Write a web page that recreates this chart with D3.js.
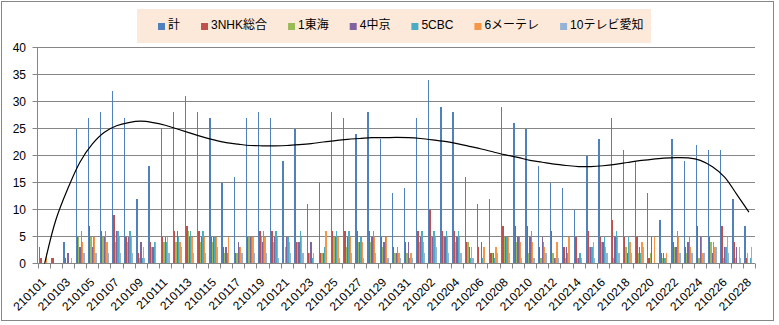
<!DOCTYPE html>
<html><head><meta charset="utf-8">
<script src="https://cdn.jsdelivr.net/npm/d3@7"></script>
<style>
html,body{margin:0;padding:0;background:#fff;}
svg{display:block;}
text{font-family:"Liberation Sans","Noto Sans CJK JP",sans-serif;}
</style></head>
<body>
<svg id="chart" width="779" height="325"></svg>
<script>
const dates = ["210101","210102","210103","210104","210105","210106","210107","210108","210109","210110",
"210111","210112","210113","210114","210115","210116","210117","210118","210119","210120",
"210121","210122","210123","210124","210125","210126","210127","210128","210129","210130","210131",
"210201","210202","210203","210204","210205","210206","210207","210208","210209","210210",
"210211","210212","210213","210214","210215","210216","210217","210218","210219","210220",
"210221","210222","210223","210224","210225","210226","210227","210228"];

const seriesNames = ["計","3NHK総合","1東海","4中京","5CBC","6メーテレ","10テレビ愛知"];
const seriesColors = ["#4F81BD","#C0504D","#9BBB59","#8064A2","#4BACC6","#F79646","#95B3D7"];

const total   = [3,1,4,25,27,28,32,27,12,18,25,28,31,28,27,15,16,27,28,27,19,25,11,15,28,27,24,28,23,13,14,27,34,29,28,16,11,12,29,26,25,18,15,14,10,20,23,27,21,19,13,8,23,19,22,21,21,12,7];
const nhk     = [1,1,1,5,7,6,9,5,2,4,5,6,7,6,5,3,2,5,6,6,0,4,2,2,6,6,6,6,5,3,4,6,10,6,6,4,3,2,7,7,7,3,6,3,5,6,5,8,5,5,1,2,4,3,7,5,7,4,1];
const tokai   = [0,0,0,5,5,5,4,4,1,3,4,4,6,4,4,2,2,5,5,4,3,4,2,2,5,3,4,4,3,2,2,4,5,5,4,4,0,2,5,4,2,1,2,1,1,3,4,1,3,2,2,1,3,2,1,4,1,1,2];
const chukyo  = [0,0,2,3,3,5,6,5,4,3,5,6,5,5,5,3,4,5,4,5,5,4,4,2,5,5,4,5,4,2,4,5,5,5,5,3,4,2,5,5,5,5,1,3,1,3,4,5,2,3,5,2,3,4,5,2,3,3,0];
const cbc     = [0,0,0,6,5,6,6,6,1,4,4,5,6,6,5,2,3,5,6,6,5,6,1,3,6,6,5,6,5,3,1,6,6,6,6,1,1,1,5,5,6,4,1,2,2,3,5,6,5,2,0,1,6,5,5,4,3,0,1];
const meitele = [2,0,0,4,5,4,5,5,3,4,5,4,5,5,5,5,3,5,5,5,4,5,2,6,5,5,4,5,5,2,2,4,5,5,5,3,3,3,5,4,4,3,4,5,1,4,3,5,4,4,5,2,5,3,2,3,5,3,3];
const tvaichi = [0,0,1,2,2,2,2,2,1,0,2,3,2,2,3,0,2,2,2,1,2,2,0,0,1,2,1,2,1,1,1,2,3,2,2,1,0,2,2,1,1,2,1,0,0,1,2,2,2,3,0,0,2,2,2,3,2,1,0];

// trend line: [category index, value]
const trendIdx = [0,1,2,3,4,5,6,7,8,9,10,11,12,13,14,15,16,17,18,19,20,21,22,23,24,25,26,27,28,29,30,31,32,33,34,35,36,37,38,39,40,41,42,43,44,45,46,47,48,49,50,51,52,53,54,55,56,57,58];
const trendVal = [-0.9,8.0,13.9,18.8,22.1,24.3,25.5,26.1,26.35,26.1,25.6,24.9,24.2,23.5,22.9,22.4,22.1,21.85,21.8,21.8,21.85,22.0,22.2,22.5,22.75,23.0,23.15,23.3,23.3,23.35,23.3,23.15,22.9,22.6,22.2,21.7,21.2,20.65,20.1,19.65,19.1,18.75,18.4,18.15,17.95,17.95,18.1,18.35,18.7,19.05,19.3,19.5,19.6,19.55,19.1,17.9,16.0,12.8,9.5];

const yTicks = [0,5,10,15,20,25,30,35,40];

const seriesData = [total,nhk,tokai,chukyo,cbc,meitele,tvaichi];

const svg = d3.select("#chart");
svg.append("rect").attr("x",1.5).attr("y",1.5).attr("width",772).attr("height",319)
  .attr("fill","#fff").attr("stroke","#868686").attr("stroke-width",1);

const pL = 37.5, pR = 755, pT = 47.5, pB = 263.5;
const x0 = d3.scaleBand().domain(dates).range([pL,pR]).padding(0);
const bw = x0.bandwidth();
const x1 = d3.scaleBand().domain(seriesNames).range([bw*0.125, bw*0.875]).padding(0);
const y = d3.scaleLinear().domain([0,40]).range([pB, pT]);

svg.append("g").selectAll("line").data(yTicks).join("line")
  .attr("x1",pL-5).attr("x2",pR).attr("y1",d=>y(d)).attr("y2",d=>y(d))
  .attr("stroke","#868686").attr("stroke-width",1);

svg.append("g").selectAll("text").data(yTicks).join("text")
  .attr("x",26).attr("y",d=>y(d)).attr("dy","0.36em").attr("text-anchor","end")
  .attr("font-size","12px").attr("fill","#000").text(d=>d);

const gBars = svg.append("g").attr("shape-rendering","crispEdges");
dates.forEach((d,i)=>{
  seriesNames.forEach((s,k)=>{
    const v = seriesData[k][i];
    if (v<=0) return;
    const xa = Math.round(x0(d)+x1(s));
    const xb = Math.max(xa+1, Math.round(x0(d)+x1(s)+x1.bandwidth()));
    const yt = Math.round(y(v));
    gBars.append("rect")
      .attr("x", xa)
      .attr("y", yt)
      .attr("width", xb-xa)
      .attr("height", Math.round(y(0))-yt)
      .attr("fill", seriesColors[k]);
  });
});

svg.append("line").attr("x1",pL).attr("x2",pL).attr("y1",pT).attr("y2",pB)
  .attr("stroke","#868686");
svg.append("line").attr("x1",pL).attr("x2",pR).attr("y1",pB).attr("y2",pB)
  .attr("stroke","#868686");
const bounds = dates.map(d=>x0(d)).concat([pR]);
svg.append("g").selectAll("line").data(bounds).join("line")
  .attr("x1",d=>Math.round(d)+0.5).attr("x2",d=>Math.round(d)+0.5).attr("y1",pB).attr("y2",pB+5)
  .attr("stroke","#868686");

svg.append("g").selectAll("text").data(dates.filter((d,i)=>i%2===0)).join("text")
  .attr("transform",d=>`translate(${x0(d)+bw/2},280) rotate(-45)`)
  .attr("text-anchor","end").attr("dy","0.36em")
  .attr("font-size","12px").attr("fill","#000").text(d=>d);

svg.append("clipPath").attr("id","clip").append("rect")
  .attr("x",pL).attr("y",pT-5).attr("width",pR-pL).attr("height",pB-pT+5);
const trendPts = trendIdx.map((t,i)=>[pL + bw*(t+0.5), y(trendVal[i])]);
svg.append("path").attr("clip-path","url(#clip)")
  .attr("d", d3.line().curve(d3.curveCatmullRom)(trendPts))
  .attr("fill","none").attr("stroke","#000").attr("stroke-width",1.2);

const lg = svg.append("g");
lg.append("rect").attr("x",137).attr("y",9).attr("width",514).attr("height",34).attr("fill","#FDE9D9");
let lx = 158;
seriesNames.forEach((s,k)=>{
  lg.append("rect").attr("x",lx).attr("y",23).attr("width",7).attr("height",7).attr("fill",seriesColors[k]);
  const t = lg.append("text").attr("x",lx+10).attr("y",28.5).attr("font-size","12px").attr("fill","#000").text(s);
  const w = t.node().getComputedTextLength();
  lx = lx + 10 + w + 21;
});
</script>
</body></html>
